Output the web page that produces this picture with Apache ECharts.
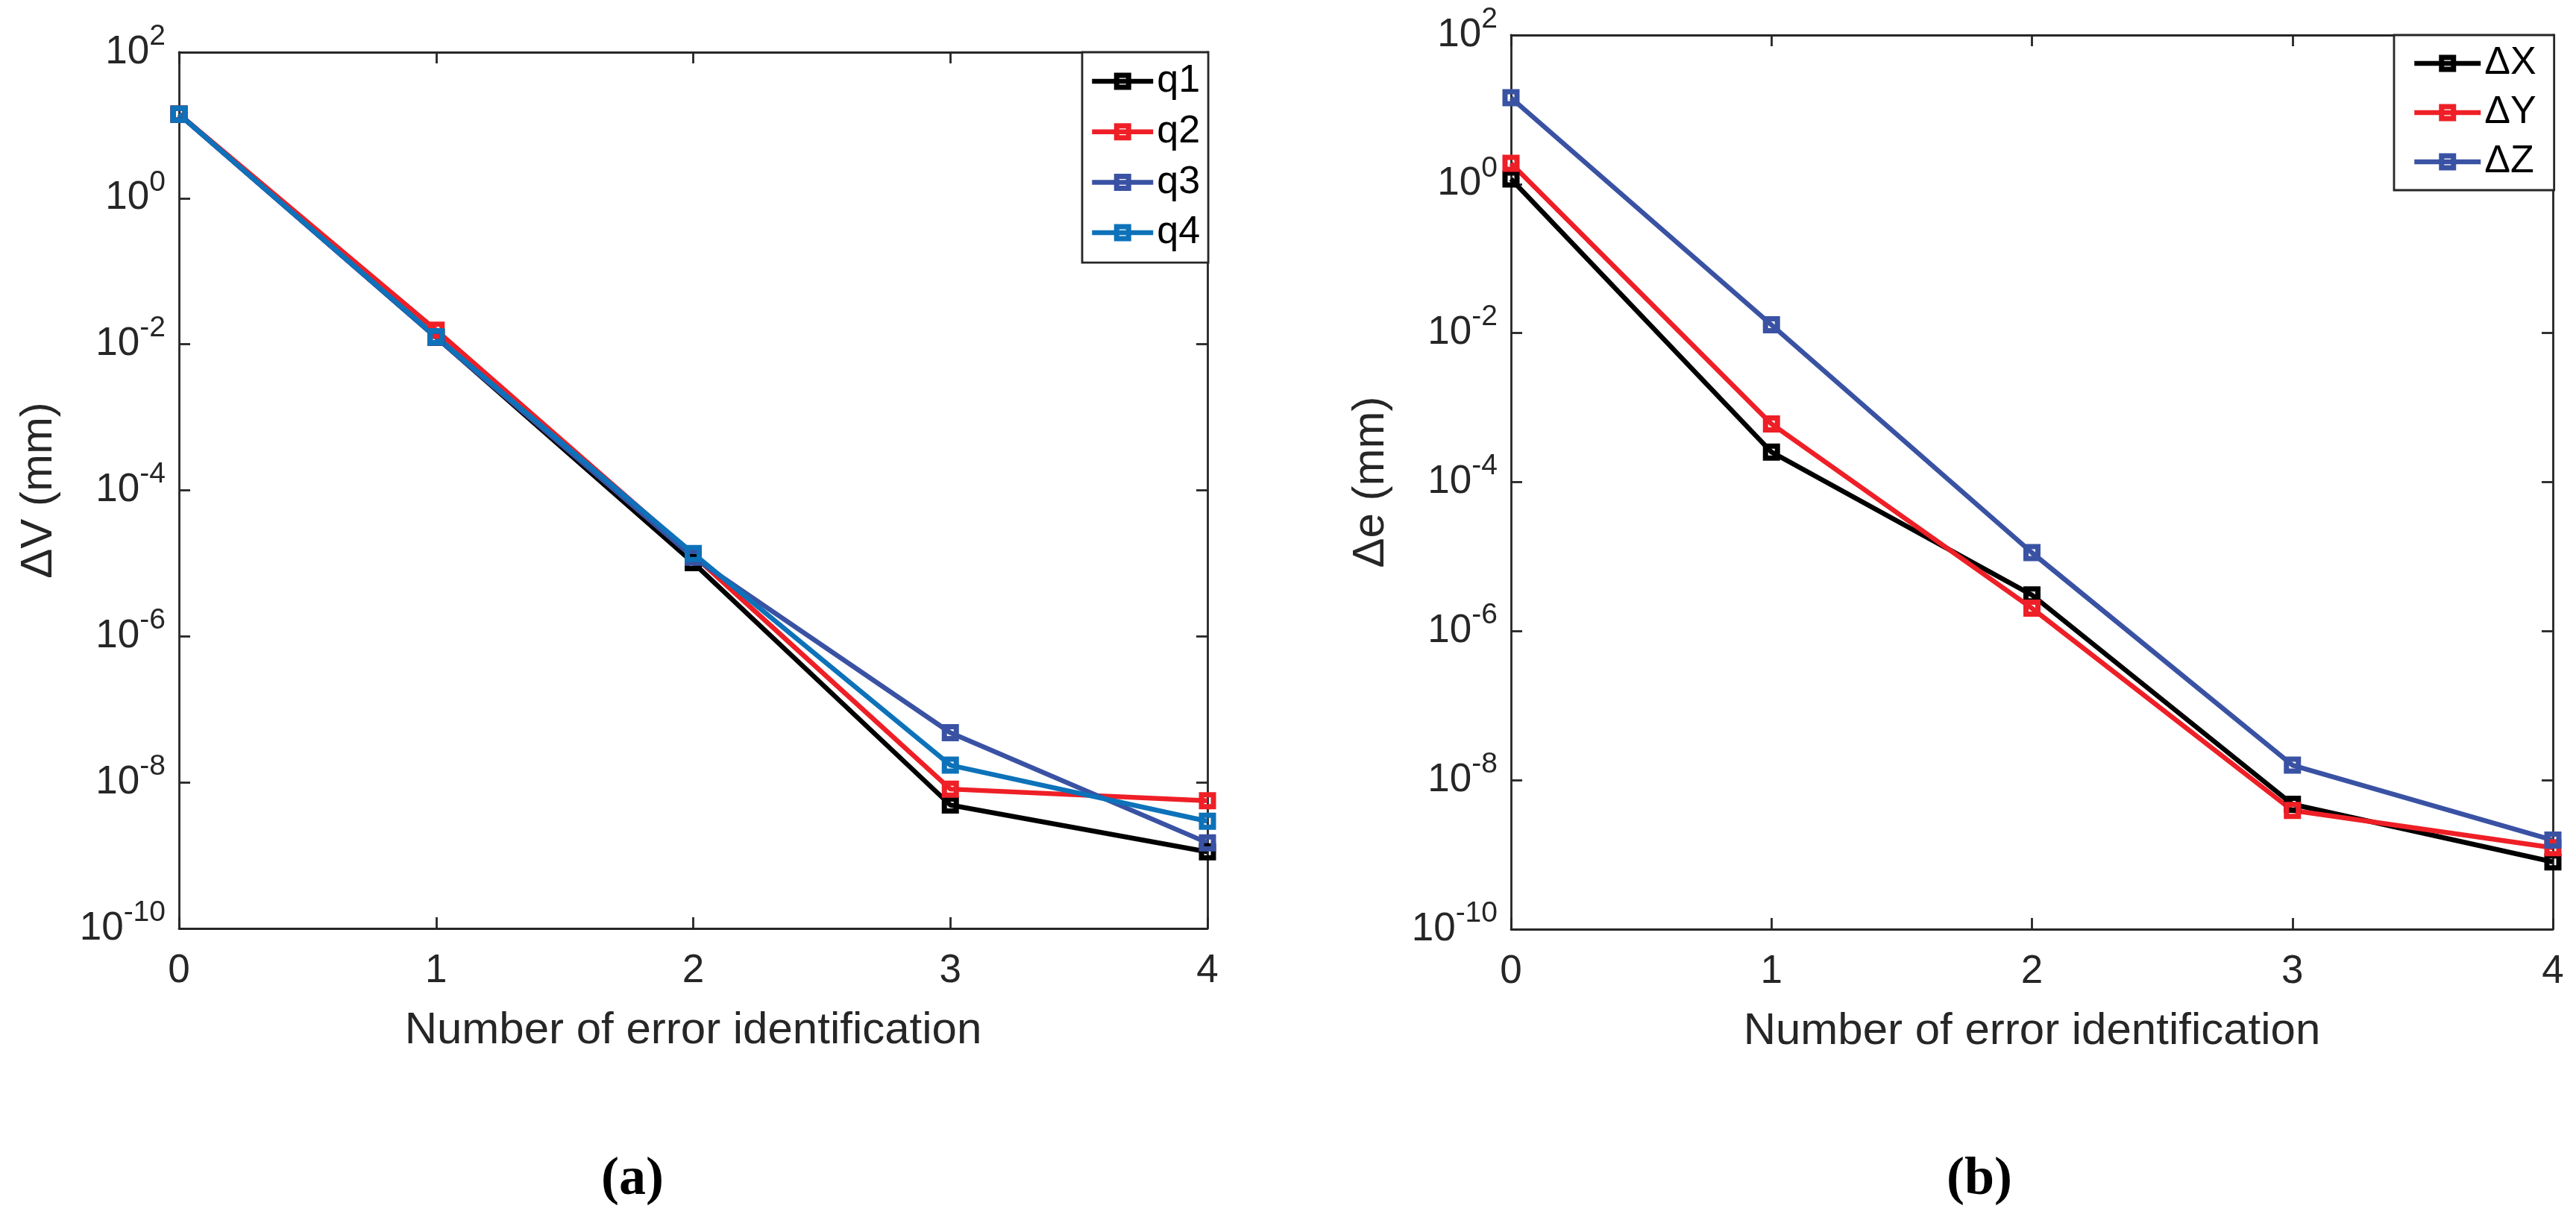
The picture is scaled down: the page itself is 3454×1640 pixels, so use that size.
<!DOCTYPE html>
<html>
<head>
<meta charset="utf-8">
<title>Error identification convergence</title>
<script src="https://cdn.jsdelivr.net/npm/echarts@6/dist/echarts.min.js"></script>
<style>
  html, body { margin: 0; padding: 0; background: #fff; }
  #chart { width: 3454px; height: 1640px; }
</style>
</head>
<body>
<div id="chart"></div>
<script>
// x positions (number of identification)
var xSteps = [0, 1, 2, 3, 4];

// (a) ΔV per joint
var q1 = [14.2, 0.0125, 1.02e-5, 4.9e-9, 1.12e-9];
var q2 = [14.2, 0.0156, 1.3e-5, 8.1e-9, 5.6e-9];
var q3 = [14.0, 0.0124, 1.21e-5, 4.8e-8, 1.49e-9];
var q4 = [14.2, 0.0127, 1.36e-5, 1.72e-8, 2.94e-9];

// (b) Δe per axis
var dX = [1.17, 2.53e-4, 3.06e-6, 4.75e-9, 8.0e-10];
var dY = [1.9, 6.04e-4, 2.03e-6, 3.92e-9, 1.24e-9];
var dZ = [14.4, 1.29e-2, 1.13e-5, 1.59e-8, 1.57e-9];

// y tick exponents (10^n)
var yExpMin = -10, yExpMax = 2, yExpStep = 2;

var FONT = "'Liberation Sans', Arial, sans-serif";
var AX = '#262626';
var colBlack = '#000000', colRed = '#EE1F26', colNavy = '#3A52A3', colBlue = '#0D72B9';

function pairs(vals) {
	return xSteps.map(function(x, i) { return [x, vals[i]]; });
}

function lineSeries(name, vals, color, xi, yi) {
	return {
		name: name,
		type: 'line',
		xAxisIndex: xi,
		yAxisIndex: yi,
		data: pairs(vals),
		clip: false,
		symbol: 'rect',
		symbolSize: 16,
		showSymbol: true,
		lineStyle: { color: color, width: 6.5 },
		itemStyle: { color: 'rgba(0,0,0,0)', borderColor: color, borderWidth: 7 },
		emphasis: { disabled: true },
		animation: false
	};
}

function xAxes(gridIndex) {
	return [{
		gridIndex: gridIndex, type: 'value', position: 'bottom',
		min: 0, max: 4, interval: 1,
		name: 'Number of error identification', nameLocation: 'middle', nameGap: 107,
		nameTextStyle: { fontSize: 60, color: AX, fontFamily: FONT },
		axisLine: { show: true, onZero: false, lineStyle: { color: AX, width: 2.8 } },
		axisTick: { show: true, inside: true, length: 15, lineStyle: { color: AX, width: 2.8 } },
		axisLabel: { show: true, margin: 31, fontSize: 53, color: AX, fontFamily: FONT, showMinLabel: true, showMaxLabel: true },
		splitLine: { show: false }
	}, {
		gridIndex: gridIndex, type: 'value', position: 'top',
		min: 0, max: 4, interval: 1,
		axisLine: { show: true, onZero: false, lineStyle: { color: AX, width: 2.8 } },
		axisTick: { show: true, inside: true, length: 15, lineStyle: { color: AX, width: 2.8 } },
		axisLabel: { show: false },
		splitLine: { show: false }
	}];
}

function yAxes(gridIndex, title) {
	return [{
		// data axis: logarithmic, drawn by the tick axes below
		gridIndex: gridIndex, type: 'log', logBase: 10,
		min: Math.pow(10, yExpMin), max: Math.pow(10, yExpMax),
		show: false,
		splitLine: { show: false }
	}, {
		gridIndex: gridIndex, type: 'value', position: 'left',
		min: yExpMin, max: yExpMax, interval: yExpStep,
		name: title, nameLocation: 'middle', nameGap: 158,
		nameTextStyle: { fontSize: 60, color: AX, fontFamily: FONT },
		axisLine: { show: true, onZero: false, lineStyle: { color: AX, width: 2.8 } },
		axisTick: { show: true, inside: true, length: 15, lineStyle: { color: AX, width: 2.8 } },
		axisLabel: {
			show: true, margin: 18, showMinLabel: true, showMaxLabel: true,
			formatter: function(v) { return '{b|10}{e|' + v + '}'; },
			rich: {
				b: { fontSize: 53, lineHeight: 53, color: AX, fontFamily: FONT, verticalAlign: 'bottom' },
				e: { fontSize: 39, lineHeight: 39, color: AX, fontFamily: FONT, verticalAlign: 'bottom', padding: [0, 0, 28, 0] }
			}
		},
		splitLine: { show: false }
	}, {
		gridIndex: gridIndex, type: 'value', position: 'right',
		min: yExpMin, max: yExpMax, interval: yExpStep,
		axisLine: { show: true, onZero: false, lineStyle: { color: AX, width: 2.8 } },
		axisTick: { show: true, inside: true, length: 15, lineStyle: { color: AX, width: 2.8 } },
		axisLabel: { show: false },
		splitLine: { show: false }
	}];
}

var legendBase = {
	orient: 'vertical',
	itemHeight: 20,
	backgroundColor: '#ffffff', borderColor: AX, borderWidth: 2.8, borderRadius: 0,
	lineStyle: { width: 6.5 },
	itemStyle: { borderWidth: 7 },
	textStyle: { fontSize: 52, lineHeight: 52, color: '#000', fontFamily: FONT },
	selectedMode: false
};

var chart = echarts.init(document.getElementById('chart'), null, { renderer: 'canvas' });

var option = {
	backgroundColor: '#ffffff',
	animation: false,
	textStyle: { fontFamily: FONT },
	grid: [
		{ left: 240, top: 70, width: 1379, height: 1175, outerBoundsMode: 'none', containLabel: false },
		{ left: 2026, top: 47, width: 1397, height: 1199, outerBoundsMode: 'none', containLabel: false }
	],
	xAxis: xAxes(0).concat(xAxes(1)),
	yAxis: yAxes(0, 'ΔV (mm)').concat(yAxes(1, 'Δe (mm)')),
	legend: [
		echarts.util.merge({
			data: ['q1', 'q2', 'q3', 'q4'],
			left: 1451, top: 70,
			padding: [13, 11, 14, 10],
			itemWidth: 82, itemGap: 15.7
		}, legendBase),
		echarts.util.merge({
			data: ['ΔX', 'ΔY', 'ΔZ'],
			left: 3210, top: 47,
			padding: [12, 24, 12, 24],
			itemWidth: 89, itemGap: 14
		}, legendBase)
	],
	graphic: [
		{ type: 'text', x: 848, y: 1582, style: { text: '(a)', font: "bold 72px 'Liberation Serif', 'Times New Roman', serif", fill: '#000', align: 'center', verticalAlign: 'middle' } },
		{ type: 'text', x: 2654, y: 1582, style: { text: '(b)', font: "bold 72px 'Liberation Serif', 'Times New Roman', serif", fill: '#000', align: 'center', verticalAlign: 'middle' } }
	],
	series: [
		lineSeries('q1', q1, colBlack, 0, 0),
		lineSeries('q2', q2, colRed, 0, 0),
		lineSeries('q3', q3, colNavy, 0, 0),
		lineSeries('q4', q4, colBlue, 0, 0),
		lineSeries('ΔX', dX, colBlack, 2, 3),
		lineSeries('ΔY', dY, colRed, 2, 3),
		lineSeries('ΔZ', dZ, colNavy, 2, 3)
	]
};

chart.setOption(option);
</script>
</body>
</html>
